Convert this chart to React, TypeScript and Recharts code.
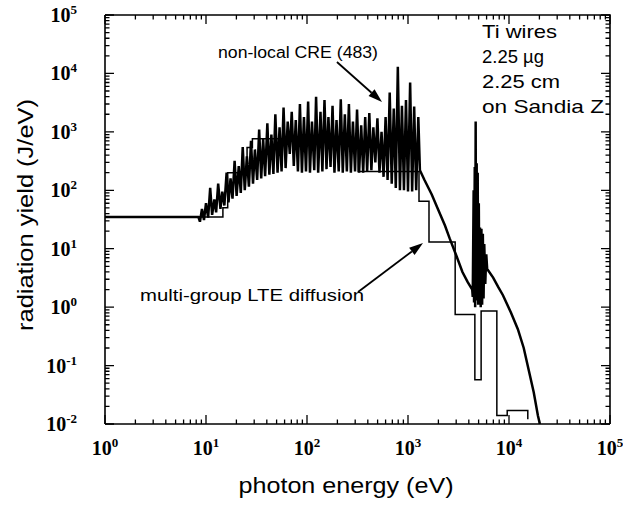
// Ti wire-array radiation spectrum on Sandia Z: CRE vs multi-group LTE
import React from "react"
import { LineChart, Line, XAxis, YAxis, ReferenceLine } from "recharts"

const W = 623
const H = 508

// plot box (chart margins are derived from it)
const plotLeft = 105
const plotRight = 610
const plotTop = 15
const plotBottom = 424
const xAxisH = 60
const yAxisW = 60

// axis decades + minor multipliers
const xDecades = [1, 10, 100, 1000, 10000, 100000]
const yDecades = [0.01, 0.1, 1, 10, 100, 1000, 10000, 100000]
const minorSteps = [2, 3, 4, 5, 6, 7, 8, 9]

// non-local CRE spectrum (eV, J/eV)
const creEnergy = [
  1, 8.4,
  8.71, 9.12, 9.55, 10.0, 10.5, 11.0, 11.5, 12.1, 12.6, 13.2, 13.9, 14.5, 15.2, 16.0, 16.7, 17.5, 18.3,
  19.2, 20.1, 21.1, 22.1, 23.1, 24.2, 25.4, 26.6, 27.9, 29.2, 30.5, 32.1, 33.6, 35.2, 36.8, 38.5, 40.5,
  42.4, 44.4, 46.5, 48.6, 51.1, 53.5, 56.0, 58.6, 61.4, 64.4, 67.5, 70.6, 74.0, 77.4, 81.3,
  85.1, 89.1, 93.3, 97.7, 102.6, 107, 112, 118, 123, 129, 136, 142, 149, 156, 163, 171, 179, 187, 196, 206,
  216, 226, 237, 248, 260, 272, 285, 299, 313, 328, 344, 360, 377, 394, 414, 434, 454, 475, 498, 522,
  547, 573, 600, 628, 659, 690, 723, 757, 793, 832,
  871, 912, 955, 1000, 1050, 1099, 1151, 1205, 1265,
  1312, 1456, 1718, 1977, 2323, 2585, 3020, 3459, 3890, 4325,
  4375, 4467, 4508, 4581, 4624, 4677, 4721, 4786, 4842, 4898, 4955, 5023, 5093, 5164, 5248, 5333,
  5420, 5508, 5598, 5689, 5821, 5957,
  6081, 6966, 7834, 8710, 10470, 12240, 13990, 15770, 17570, 19320, 20230,
]
const creYield = [
  35, 35,
  29, 48, 31, 60, 34, 110, 38, 70, 42, 130, 48, 95, 55, 200, 62, 160, 72,
  320, 80, 260, 90, 550, 100, 380, 115, 700, 130, 500, 150, 1100, 160, 750, 175, 1400,
  185, 900, 190, 2000, 200, 1200, 210, 2600, 240, 1500, 420, 2200, 260, 1600, 210,
  3000, 200, 1800, 210, 3300, 200, 1500, 220, 4000, 200, 2200, 210, 3500, 230, 1800, 250, 2800, 200, 1600, 210,
  3600, 200, 2000, 210, 3000, 200, 1500, 210, 2400, 200, 1300, 200, 1800, 210, 2100, 220, 1200, 300, 1700, 200,
  1000, 170, 1800, 150, 4700, 130, 2500, 110, 13000, 100,
  2800, 100, 3500, 95, 7000, 95, 2700, 100, 1800,
  220, 150, 85, 48, 25, 15, 7.5, 4.0, 2.7, 2.0,
  1.5, 100, 1.2, 250, 1.0, 1500, 1.3, 290, 1.4, 200, 1.1, 60, 1.2, 23, 1.0, 22,
  1.1, 18, 1.4, 12, 2.5, 8,
  4.5, 3.2, 2.2, 1.6, 0.8, 0.42, 0.2, 0.08, 0.035, 0.014, 0.01,
]

// multi-group LTE diffusion: each value holds up to the next group edge
const lteEnergy = [1, 14.7, 16.4, 25.5, 28.8, 321, 1285, 1614, 2931, 4592, 5297, 7580, 9600, 15350]
const lteYield = [35, 50, 200, 540, 760, 210, 65, 13, 0.75, 0.057, 0.86, 0.014, 0.017, 0.012]

const creData = creEnergy.map((x, i) => ({ x, y: creYield[i] }))
const lteData = lteEnergy.map((x, i) => ({ x, y: lteYield[i] }))

const withMinors = (decades: number[]) =>
  decades.flatMap((d, i) =>
    i === decades.length - 1 ? [d] : [d, ...minorSteps.map((m) => +(d * m).toPrecision(6))]
  )
const xTicks = withMinors(xDecades)
const yTicks = withMinors(yDecades)
const xMin = xDecades[0]
const xMax = xDecades[xDecades.length - 1]
const yMin = yDecades[0]
const yMax = yDecades[yDecades.length - 1]

const isDecade = (v: number) => Math.abs(Math.log10(v) - Math.round(Math.log10(v))) < 1e-6
const expOf = (v: number) => {
  const e = Math.round(Math.log10(v))
  return e < 0 ? "-" + Math.abs(e) : String(e)
}

const labelFont = "'Liberation Serif', 'Times New Roman', serif"
const sansFont = "'Liberation Sans', Arial, Helvetica, sans-serif"

const MAJOR = 9
const MINOR = 4.5

// same log mapping the axes use, for the inward tick marks on all four sides
const tickX = (v: number) =>
  plotLeft + ((Math.log10(v) - Math.log10(xMin)) / (Math.log10(xMax) - Math.log10(xMin))) * (plotRight - plotLeft)
const tickY = (v: number) =>
  plotBottom - ((Math.log10(v) - Math.log10(yMin)) / (Math.log10(yMax) - Math.log10(yMin))) * (plotBottom - plotTop)

let tickPath = ""
xTicks.forEach((v) => {
  const x = tickX(v).toFixed(2)
  const len = isDecade(v) ? MAJOR : MINOR
  tickPath += `M${x} ${plotBottom}V${plotBottom - len}M${x} ${plotTop}V${plotTop + len}`
})
yTicks.forEach((v) => {
  const y = tickY(v).toFixed(2)
  const len = isDecade(v) ? MAJOR : MINOR
  tickPath += `M${plotLeft} ${y}H${plotLeft + len}M${plotRight} ${y}H${plotRight - len}`
})
const framePath = `M${plotLeft} ${plotTop}H${plotRight}V${plotBottom}`

function BottomLabel({ x, y, payload }: any) {
  const v = payload.value
  if (!isDecade(v)) return <g />
  return (
    <text x={x} y={y + 31} textAnchor="middle" fontFamily={labelFont} fontWeight="bold" fontSize={20} fill="#000">
      10<tspan dy={-8} fontSize={13}>{expOf(v)}</tspan>
    </text>
  )
}

function LeftLabel({ x, y, payload }: any) {
  const v = payload.value
  if (!isDecade(v)) return <g />
  return (
    <text x={x - 28} y={y + 7} textAnchor="end" fontFamily={labelFont} fontWeight="bold" fontSize={20} fill="#000">
      10<tspan dy={-8} fontSize={13}>{expOf(v)}</tspan>
    </text>
  )
}

function Arrow(props: any) {
  const { x1, y1, x2, y2 } = props
  const ang = Math.atan2(y2 - y1, x2 - x1)
  const len = 14
  const w = 4.5
  const bx = x2 - len * Math.cos(ang)
  const by = y2 - len * Math.sin(ang)
  const px = -Math.sin(ang) * w
  const py = Math.cos(ang) * w
  return (
    <g>
      <line x1={x1} y1={y1} x2={bx} y2={by} stroke="#000" strokeWidth={1.8} />
      <polygon points={`${x2},${y2} ${bx + px},${by + py} ${bx - px},${by - py}`} fill="#000" />
    </g>
  )
}

// frame + ticks drawn through a reference-line shape, inside the chart surface
function FrameShape() {
  return (
    <g>
      <path d={tickPath} fill="none" stroke="#000" strokeWidth={1.3} />
      <path d={framePath} fill="none" stroke="#000" strokeWidth={1.6} />
    </g>
  )
}

export default function App() {
  return (
    <div style={{ position: "absolute", left: 0, top: 0, width: W, height: H, background: "#fff" }}>
      <LineChart
        width={W}
        height={H}
        margin={{ top: plotTop, right: W - plotRight, bottom: H - plotBottom - xAxisH, left: plotLeft - yAxisW }}
      >
        <XAxis
          dataKey="x"
          type="number"
          scale="log"
          domain={[xMin, xMax]}
          allowDataOverflow
          ticks={xTicks}
          interval={0}
          height={xAxisH}
          tickSize={0}
          tickMargin={0}
          tickLine={false}
          tick={<BottomLabel />}
          axisLine={{ stroke: "#000", strokeWidth: 1.6 }}
        />
        <YAxis
          type="number"
          scale="log"
          domain={[yMin, yMax]}
          allowDataOverflow
          ticks={yTicks}
          interval={0}
          width={yAxisW}
          tickSize={0}
          tickMargin={0}
          tickLine={false}
          tick={<LeftLabel />}
          axisLine={{ stroke: "#000", strokeWidth: 1.6 }}
        />
        <Line
          data={lteData}
          dataKey="y"
          type="stepAfter"
          stroke="#000"
          strokeWidth={1.5}
          dot={false}
          isAnimationActive={false}
        />
        <Line
          data={creData}
          dataKey="y"
          type="linear"
          stroke="#000"
          strokeWidth={2.5}
          dot={false}
          isAnimationActive={false}
        />
        <ReferenceLine segment={[{ x: 198, y: 15700 }, { x: 553, y: 3240 }]} shape={Arrow} />
        <ReferenceLine segment={[{ x: 320, y: 1.82 }, { x: 1409, y: 12.5 }]} shape={Arrow} />
        <ReferenceLine segment={[{ x: 10, y: 1 }, { x: 100, y: 10 }]} shape={FrameShape} />
      </LineChart>
      <svg
        width={W}
        height={H}
        style={{ position: "absolute", left: 0, top: 0, pointerEvents: "none" }}
        fontFamily={sansFont}
      >
        <text x={346} y={493} textAnchor="middle" fontSize={22} textLength={215} lengthAdjust="spacingAndGlyphs">
          photon energy (eV)
        </text>
        <text
          transform="translate(33,215) rotate(-90)"
          textAnchor="middle"
          fontSize={22}
          textLength={232}
          lengthAdjust="spacingAndGlyphs"
        >
          radiation yield (J/eV)
        </text>
        <text x={218} y={58} fontSize={16} textLength={160} lengthAdjust="spacingAndGlyphs">
          non-local CRE (483)
        </text>
        <text x={140} y={301} fontSize={16} textLength={224} lengthAdjust="spacingAndGlyphs">
          multi-group LTE diffusion
        </text>
        <text x={482} y={38} fontSize={19} textLength={75} lengthAdjust="spacingAndGlyphs">Ti wires</text>
        <text x={482} y={63} fontSize={19} textLength={62} lengthAdjust="spacingAndGlyphs">2.25 µg</text>
        <text x={482} y={88} fontSize={19} textLength={78} lengthAdjust="spacingAndGlyphs">2.25 cm</text>
        <text x={482} y={113} fontSize={19} textLength={122} lengthAdjust="spacingAndGlyphs">on Sandia Z</text>
      </svg>
    </div>
  )
}
